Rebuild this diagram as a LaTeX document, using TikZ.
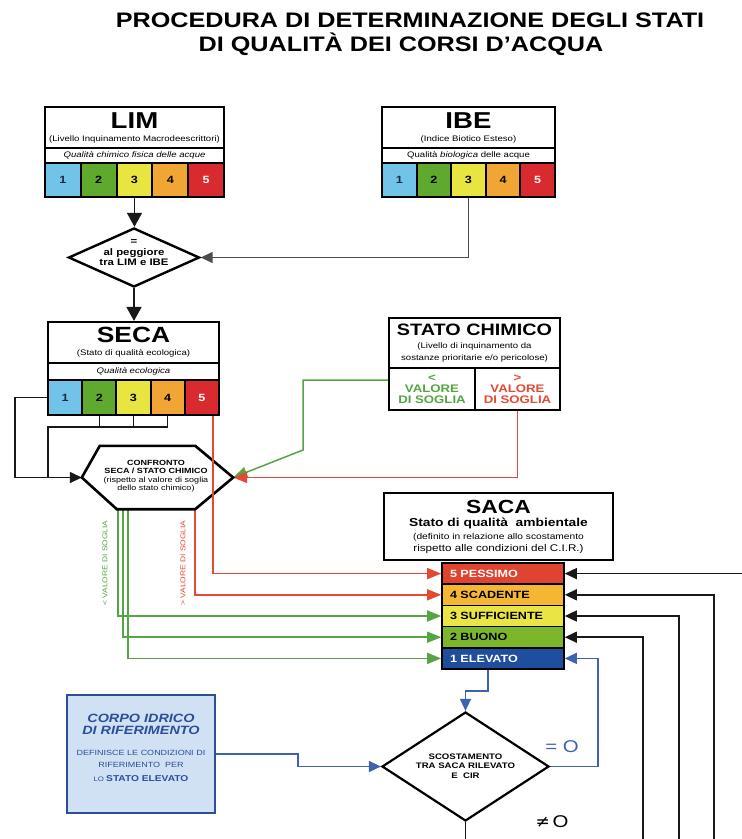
\documentclass[tikz,border=0pt]{standalone}
\usepackage{fontspec}
\setmainfont{Liberation Sans}[FakeStretch=1.2]
\newfontfamily\dvsymb{DejaVu Sans}
\usetikzlibrary{shapes.geometric,arrows.meta}
\pgfdeclarelayer{bg}
\pgfsetlayers{bg,main}
\newcommand\fsz[2]{\fontsize{#1}{#2}\selectfont}

\definecolor{cA}{HTML}{72C3E8}
\definecolor{cB}{HTML}{5EA92E}
\definecolor{cC}{HTML}{E8E540}
\definecolor{cD}{HTML}{F1A535}
\definecolor{cE}{HTML}{D92B2F}
\definecolor{sE}{HTML}{DF4430}
\definecolor{sD}{HTML}{F5B731}
\definecolor{sC}{HTML}{EAE544}
\definecolor{sB}{HTML}{7CB72B}
\definecolor{sA}{HTML}{1E4E9D}
\definecolor{gline}{HTML}{55A544}
\definecolor{rline}{HTML}{E24A36}
\definecolor{bline}{HTML}{3D63AF}
\definecolor{corpoFill}{HTML}{CFE1F2}
\definecolor{corpoText}{HTML}{2C4D9A}
\definecolor{numdark}{HTML}{1C2A4A}

\begin{document}
\begin{tikzpicture}[x=1pt,y=-1pt,
  box/.style={draw=black,line width=2.2pt,fill=white,inner sep=0pt,align=center},
  grade/.style={draw=black,line width=2pt,inner sep=0pt,font=\fsz{10.5}{11}\bfseries},
  level/.style={draw=black,line width=1.6pt,inner sep=0pt,minimum width=122pt,
    minimum height=21.2pt,text width=106pt,align=left,font=\fsz{10.5}{11}\bfseries},
  conn/.style={draw=black!90,line width=1.5pt},
  gconn/.style={draw=gline,line width=1.5pt},
  rconn/.style={draw=rline,line width=1.5pt},
  bconn/.style={draw=bline,line width=1.5pt},
  ktip/.style={-{Triangle[length=12pt,width=11pt]}},
  bigtip/.style={-{Triangle[length=14pt,width=15pt]}},
  ctip/.style={-{Triangle[length=14pt,width=11pt]}},
  label/.style={inner sep=0pt,align=center}
]
\begin{pgfonlayer}{bg}
  \fill[white] (0,0) rectangle (742,839);
\end{pgfonlayer}
\useasboundingbox (0,0) rectangle (742,839);

% ---- title
\node[label,font=\fsz{21}{21}\bfseries] (title1) at (410,20) {PROCEDURA DI DETERMINAZIONE DEGLI STATI};
\node[label,font=\fsz{21}{21}\bfseries] (title2) at (401,44) {DI QUALITÀ DEI CORSI D’ACQUA};

% ---- LIM
\node[box,minimum width=179pt,minimum height=41pt] (limT) at (134.5,127.5)
  {\fsz{23}{23}\bfseries LIM\\[1pt]\fsz{8}{8}\mdseries (Livello Inquinamento Macrodeescrittori)};
\node[box,minimum width=179pt,minimum height=15pt,font=\fsz{8}{8}\itshape] (limS) at (134.5,155.5)
  {Qualità chimico fisica delle acque};
\foreach \i/\c/\t in {1/cA/numdark,2/cB/black,3/cC/black,4/cD/black,5/cE/white}
  \node[grade,fill=\c,text=\t,minimum width=35.8pt,minimum height=34pt] (lim\i) at ({45+35.8*(\i-0.5)},180) {\i};

% ---- IBE
\node[box,minimum width=173pt,minimum height=41pt] (ibeT) at (468.5,127.5)
  {\fsz{23}{23}\bfseries IBE\\[1pt]\fsz{8}{8}\mdseries (Indice Biotico Esteso)};
\node[box,minimum width=173pt,minimum height=15pt,font=\fsz{8}{8}] (ibeS) at (468.5,155.5)
  {Qualità \textit{biologica} delle acque};
\foreach \i/\c/\t in {1/cA/numdark,2/cB/black,3/cC/black,4/cD/black,5/cE/white}
  \node[grade,fill=\c,text=\t,minimum width=34.6pt,minimum height=34pt] (ibe\i) at ({382+34.6*(\i-0.5)},180) {\i};

% ---- worst of LIM and IBE
\node[draw=black,line width=2.4pt,fill=white,diamond,inner sep=0pt,minimum width=131pt,minimum height=59pt] (dia) at (134,257.5) {};
\node[label,font=\fsz{9.5}{10.5}\bfseries] (diaTxt) at (134,253) {=\\al peggiore\\tra LIM e IBE};

% ---- SECA
\node[box,minimum width=171pt,minimum height=41pt] (secaT) at (133.5,342.5)
  {\fsz{22}{22}\bfseries SECA\\[1pt]\fsz{8}{8}\mdseries (Stato di qualità ecologica)};
\node[box,minimum width=171pt,minimum height=17pt,font=\fsz{8}{8}\itshape] (secaS) at (133.5,371.5)
  {Qualità ecologica};
\foreach \i/\c/\t in {1/cA/numdark,2/cB/black,3/cC/black,4/cD/black,5/cE/white}
  \node[grade,fill=\c,text=\t,minimum width=34.2pt,minimum height=35pt] (seca\i) at ({48+34.2*(\i-0.5)},397.5) {\i};

% ---- STATO CHIMICO
\node[box,minimum width=171pt,minimum height=50pt] (chimT) at (474.5,343)
  {\fsz{16.5}{17}\bfseries STATO CHIMICO\\[1pt]\fsz{8}{9}\mdseries (Livello di inquinamento da\\
   \fsz{8}{9}\mdseries sostanze prioritarie e/o pericolose)};
\node[box,minimum width=86pt,minimum height=42pt,text=gline,font=\fsz{11}{11}\bfseries] (chimL) at (432,389)
  {<\\VALORE\\DI SOGLIA};
\node[box,minimum width=85pt,minimum height=42pt,text=rline,font=\fsz{11}{11}\bfseries] (chimR) at (517.5,389)
  {>\\VALORE\\DI SOGLIA};

% ---- comparison hexagon (outline drawn below)
\node[inner sep=0pt,minimum width=151pt,minimum height=63pt] (hex) at (157.5,477.5) {};

% ---- SACA
\node[box,minimum width=229pt,minimum height=67pt] (sacaT) at (498.5,526.5)
  {\fsz{19}{19}\bfseries SACA\\[1pt]\fsz{11.5}{12}\bfseries Stato di qualità\ \ ambientale\\[1pt]
   \fsz{8.5}{10}\mdseries (definito in relazione allo scostamento\\
   \fsz{9.7}{10}\mdseries rispetto alle condizioni del C.I.R.)};
\node[level,fill=sE,text=white] (pess) at (503,573.6) {5 PESSIMO};
\node[level,fill=sD,text=black] (scad) at (503,594.8) {4 SCADENTE};
\node[level,fill=sC,text=black] (suff) at (503,616) {3 SUFFICIENTE};
\node[level,fill=sB,text=black] (buono) at (503,637.2) {2 BUONO};
\node[level,fill=sA,text=white] (elev) at (503,658.4) {1 ELEVATO};

% ---- reference water body
\node[draw=corpoText,line width=2.4pt,fill=corpoFill,minimum width=148pt,minimum height=118pt,inner sep=0pt] (corpo) at (141,754) {};
\node[label,text=corpoText] (corpoTxt) at (141,748)
  {\fsz{12}{12.5}\bfseries\itshape CORPO IDRICO\\\fsz{12}{12.5}\bfseries\itshape DI RIFERIMENTO\\[9pt]
   \fsz{7.5}{7.5}\mdseries\upshape DEFINISCE LE CONDIZIONI DI\\\fsz{7.5}{7.5}\mdseries\upshape RIFERIMENTO\ \ PER\\[2pt]
   \fsz{6.5}{8.5}\mdseries\upshape LO \fsz{8.5}{8.5}\bfseries STATO ELEVATO};

% ---- deviation test
\node[draw=black,line width=2.2pt,fill=white,diamond,inner sep=0pt,minimum width=167pt,minimum height=109pt] (dia2) at (465.5,766.5) {};
\node[label,font=\fsz{8}{9.5}\bfseries] (dia2Txt) at (465.5,766) {SCOSTAMENTO\\TRA SACA RILEVATO\\E\ \ CIR};
\node[label,text=bline,font=\fsz{17}{17}] (eqz) at (562,747) {= O};
\node[label,font=\fsz{17}{17}] (neqz) at (552,822) {{\dvsymb ≠}\,O};

% ---- branch labels
\node[label,rotate=90,text=gline,font=\fsz{7}{7}] (lblLow) at (105,563) {< VALORE DI SOGLIA};
\node[label,rotate=90,text=rline,font=\fsz{7}{7}] (lblHigh) at (183,563) {> VALORE DI SOGLIA};

% ---- helper coordinates for bends and page edges
\coordinate (secaL) at (15,0);
\coordinate (jbar) at (48,427);
\coordinate (gbend) at (303,450);
\coordinate (bstep) at (0,691);
\coordinate (bloop) at (598,0);
\coordinate (cstep) at (298,0);
\coordinate (bottom) at (0,839);
\coordinate (fbA) at (643,839);
\coordinate (fbB) at (679,839);
\coordinate (fbC) at (714,839);
\coordinate (fbD) at (742,0);

\begin{pgfonlayer}{bg}
  % upper chain
  \draw[conn,bigtip] (lim3.south) -- (lim3.south |- dia.north);
  \draw[conn,ktip,draw=black!70] (ibe3.south) |- (dia.east);
  \draw[conn,bigtip] (dia.south) -- (dia.south |- secaT.north);
  % SECA classes into the comparison
  \draw[conn,ktip] (seca1.west) -- (seca1.west -| secaL) |- (hex.west);
  \draw[conn] (seca2.south) -- (seca2.south |- jbar);
  \draw[conn] (seca3.south) -- (seca3.south |- jbar);
  \draw[conn] (seca4.south) -- (seca4.south |- jbar) -- (jbar) -- (jbar |- hex.west);
  % chemical status into the comparison
  \draw[gconn,ctip] ([yshift=9pt]chimL.west) -| (gbend) -- (hex.east);
  \draw[rconn,ctip] (chimR.south) |- (hex.east);
  % outcomes of the comparison
  \draw[rconn,ctip] ([xshift=-38pt]hex.south east) |- (scad.west);
  \draw[gconn,ctip] ([xshift=36pt]hex.south west) |- (suff.west);
  \draw[gconn,ctip] ([xshift=41pt]hex.south west) |- (buono.west);
  \draw[gconn,ctip] ([xshift=46pt]hex.south west) |- (elev.west);
  % feedback from the deviation test
  \draw[conn,ktip] (fbD |- pess.east) -- (pess.east);
  \draw[conn,ktip] (fbC) |- (scad.east);
  \draw[conn,ktip] (fbB) |- (suff.east);
  \draw[conn,ktip] (fbA) |- (buono.east);
  \draw[conn] (dia2.south) -- (dia2.south |- bottom);
  % blue loop through the reference condition
  \draw[bconn,ktip] ([xshift=-15pt]elev.south) -- ([xshift=-15pt]elev.south |- bstep) -| (dia2.north);
  \draw[bconn,ktip] (dia2.east) -- (dia2.east -| bloop) |- (elev.east);
  \draw[bconn,ktip] (corpo.east) -- (corpo.east -| cstep) |- (dia2.west);
\end{pgfonlayer}

% comparison hexagon
\filldraw[fill=white,draw=black,line width=2.6pt,line join=miter]
  (hex.west) -- ([xshift=18pt]hex.north west) -- ([xshift=-38pt]hex.north east) -- (hex.east)
  -- ([xshift=-38pt]hex.south east) -- ([xshift=35pt]hex.south west) -- cycle;
\node[label,font=\fsz{7.5}{8.5}] (hexTxt) at (156,476)
  {\textbf{CONFRONTO}\\\textbf{SECA / STATO CHIMICO}\\(rispetto al valore di soglia\\dello stato chimico)};
% the worst SECA class runs straight across the hexagon
\draw[rconn,ctip] ([xshift=11pt]seca5.south) |- (pess.west);
\end{tikzpicture}
\end{document}
